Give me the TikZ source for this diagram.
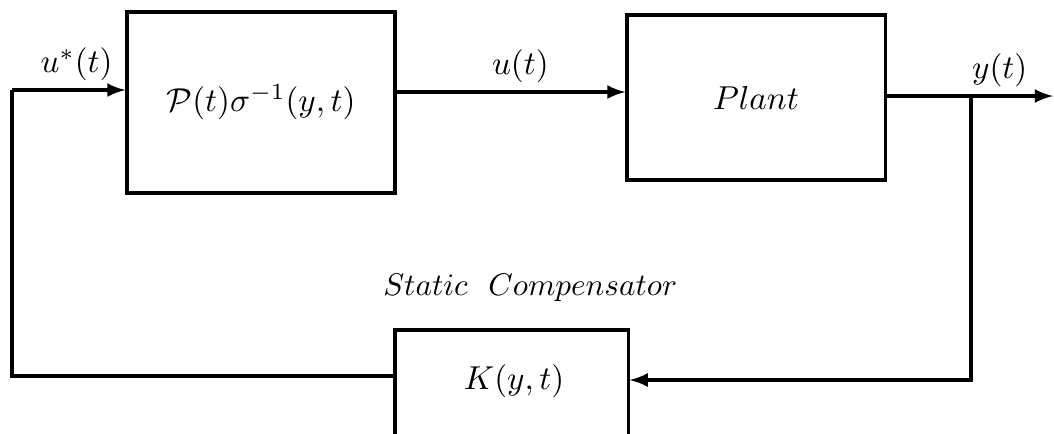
\RequirePackage{fix-cm}
\documentclass[tikz,border=0pt]{standalone}
\usepackage{amsmath, amssymb}
\usepackage{tikz}
\usetikzlibrary{
  calc,%
  arrows,
  positioning
}
\tikzset{>=latex}
\tikzset{font=\normalsize}
\tikzset{block/.style={draw, line width=1pt, inner sep=0pt, font=\fontsize{10.6pt}{13pt}\selectfont},
  signal/.style={line width=1pt},
  siglabel/.style={font=\fontsize{10.6pt}{13pt}\selectfont}}

\begin{document}
\begin{tikzpicture}[x=0.32pt, y=-0.32pt]
            \clip (0,0) rectangle (1054,433);
            % blocks
            \node[block, minimum width=85.8pt, minimum height=57.9pt] (P) at (261,102.5) {$\mathcal{P}(t)\sigma^{-1}(y,t)$};
            \node[block, minimum width=82.6pt, minimum height=52.8pt] (plant) at (756,97.5) {$Plant$};
            \node[block, minimum width=74.6pt, minimum height=41.6pt] (K) at (511.5,395) {};
            \node[siglabel] (Klabel) at (514,381) {$K(y,t)$};
            \node[above=5pt of K.north, xshift=6pt] (static) {$Static\ \ Compensator$};
            % signals
            \coordinate (in) at (12,90);
            \coordinate (uline) at (0,92);
            \coordinate (yline) at (0,96);
            \coordinate (branch) at (971,96);
            \coordinate (out) at (1053,96);
            \coordinate (back) at (0,380);
            \coordinate (fwd) at (0,376);
            \draw[signal, ->] (in) -- node[siglabel, above, pos=0.57, yshift=-0.8pt] {$u^{*}(t)$} (in -| P.west);
            \draw[signal, ->] (P.east |- uline) -- node[siglabel, above, xshift=3pt, yshift=-0.8pt] {$u(t)$} (plant.west |- uline);
            \draw[signal, ->] (plant.east |- yline) -- (branch) -- node[siglabel, above, pos=0.35, yshift=-0.8pt] {$y(t)$} (out);
            \draw[signal, ->] (branch) |- (K.east |- back);
            \draw[signal] (K.west |- fwd) -| (in);
        \end{tikzpicture}
\end{document}
